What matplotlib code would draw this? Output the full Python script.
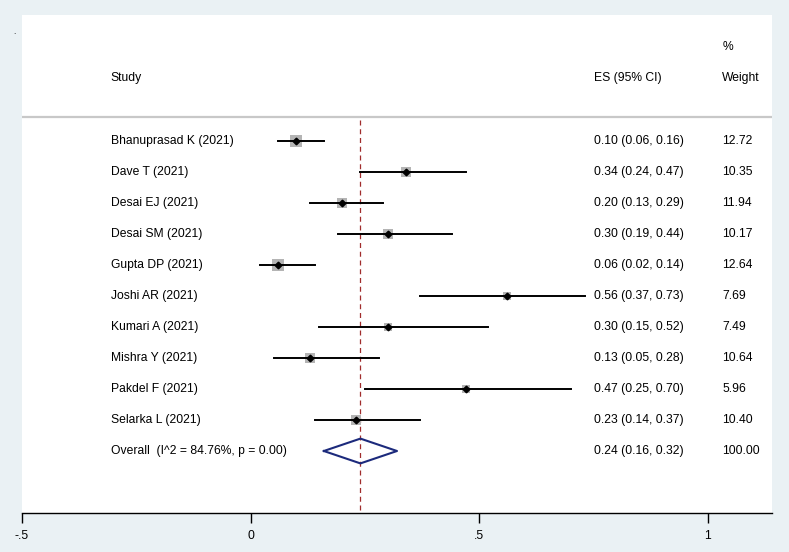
"""Forest plot of pooled proportions (Stata metan style)."""

import matplotlib

matplotlib.use("Agg")
import matplotlib.pyplot as plt
import numpy as np

studies = [
    "Bhanuprasad K (2021)",
    "Dave T (2021)",
    "Desai EJ (2021)",
    "Desai SM (2021)",
    "Gupta DP (2021)",
    "Joshi AR (2021)",
    "Kumari A (2021)",
    "Mishra Y (2021)",
    "Pakdel F (2021)",
    "Selarka L (2021)",
]
es = [0.10, 0.34, 0.20, 0.30, 0.06, 0.56, 0.30, 0.13, 0.47, 0.23]
ci_low = [0.06, 0.24, 0.13, 0.19, 0.02, 0.37, 0.15, 0.05, 0.25, 0.14]
ci_high = [0.16, 0.47, 0.29, 0.44, 0.14, 0.73, 0.52, 0.28, 0.70, 0.37]
weights = [12.72, 10.35, 11.94, 10.17, 12.64, 7.69, 7.49, 10.64, 5.96, 10.40]

overall_label = "Overall  (I^2 = 84.76%, p = 0.00)"
overall_es = 0.24
overall_low = 0.16
overall_high = 0.32
overall_weight = 100.00

x_ticks = [-0.5, 0, 0.5, 1]
x_tick_labels = ["-.5", "0", ".5", "1"]

plt.rcParams["font.family"] = ["Liberation Sans", "DejaVu Sans"]

fig = plt.figure(figsize=(7.89, 5.52), dpi=100, facecolor="#eaf1f4")
W, H = 789, 552
ax = fig.add_axes([22 / W, 1 - 513 / H, 750 / W, 498 / H])
ax.set_facecolor("white")

ax.set_xlim(-0.5, 1.14)
ax.set_ylim(12.0, -4.065)

fs = 8.7
col_study = -0.306
col_es = 0.751
col_w = 1.031

# header
ax.text(col_study, -2.03, "Study", fontsize=fs, va="center", ha="left")
ax.text(col_es, -2.03, "ES (95% CI)", fontsize=fs, va="center", ha="left")
ax.text(col_w, -2.03, "Weight", fontsize=fs, va="center", ha="left")
ax.text(col_w, -3.03, "%", fontsize=fs, va="center", ha="left")
ax.axhline(-0.77, color="#c8c8c8", linewidth=1.6)

# overall effect line
ax.plot([overall_es, overall_es], [-0.68, 12.0], color="#a02c2c",
        linewidth=0.9, linestyle=(0, (4, 3)), zorder=1)

for i, name in enumerate(studies):
    side = 3.1 * np.sqrt(weights[i]) * 0.72
    ax.plot(es[i], i, marker="s", markersize=side, color="#b4b4b4",
            markeredgewidth=0, zorder=2)
    ax.plot([ci_low[i], ci_high[i]], [i, i], color="black", linewidth=1.4,
            zorder=3)
    ax.plot(es[i], i, marker="D", markersize=3.4, color="black", zorder=4)
    ax.text(col_study, i, name, fontsize=fs, va="center", ha="left")
    ax.text(col_es, i, f"{es[i]:.2f} ({ci_low[i]:.2f}, {ci_high[i]:.2f})",
            fontsize=fs, va="center", ha="left")
    ax.text(col_w, i, f"{weights[i]:.2f}", fontsize=fs, va="center",
            ha="left")

# pooled diamond
yo = len(studies)
ax.plot([overall_low, overall_es, overall_high, overall_es, overall_low],
        [yo, yo - 0.4, yo, yo + 0.4, yo], color="#1c2a7c", linewidth=1.5,
        zorder=5)
ax.text(col_study, yo, overall_label, fontsize=fs, va="center", ha="left")
ax.text(col_es, yo,
        f"{overall_es:.2f} ({overall_low:.2f}, {overall_high:.2f})",
        fontsize=fs, va="center", ha="left")
ax.text(col_w, yo, f"{overall_weight:.2f}", fontsize=fs, va="center",
        ha="left")

fig.text(13 / W, 1 - 33 / H, ".", fontsize=6, ha="left", va="center")

for s in ["top", "left", "right"]:
    ax.spines[s].set_visible(False)
ax.spines["bottom"].set_linewidth(1.0)
ax.set_yticks([])
ax.set_xticks(x_ticks)
ax.set_xticklabels(x_tick_labels, fontsize=fs)
ax.tick_params(axis="x", direction="out", length=7, width=1.0, pad=5)

fig.savefig("out.png", dpi=100, facecolor=fig.get_facecolor())
